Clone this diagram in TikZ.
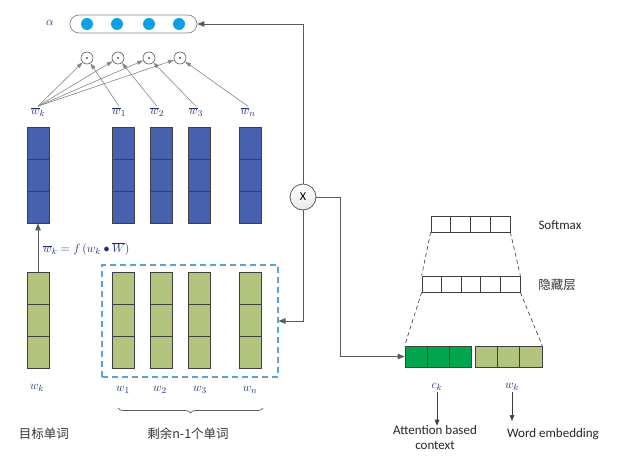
\documentclass[tikz,border=0pt]{standalone}
\usepackage{fontspec}
\setmainfont{Carlito}
\newfontfamily\cjk{Noto Sans CJK SC}
\usetikzlibrary{arrows.meta,decorations.pathreplacing,calc}
\definecolor{cblue}{HTML}{4761AE}
\definecolor{lgreen}{HTML}{B3C47F}
\definecolor{dgreen}{HTML}{00A54F}
\definecolor{dotblue}{HTML}{0AA2E2}
\definecolor{edge}{HTML}{3F3F3F}
\definecolor{conngray}{HTML}{5A5A5A}
\definecolor{attgray}{HTML}{858585}
\definecolor{lbl}{HTML}{1F2F6F}
\definecolor{dashblue}{HTML}{5BA3D6}
\tikzset{
  cell/.style={draw=edge, line width=0.7pt, minimum width=22pt, minimum height=32pt, inner sep=0pt},
  rcell/.style={draw=edge, line width=0.7pt, minimum height=16pt, inner sep=0pt, fill=white},
  gcell/.style={draw=edge, line width=0.7pt, minimum height=21pt, minimum width=22pt, inner sep=0pt},
  conn/.style={draw=conngray, line width=0.8pt, -{Triangle[length=7pt,width=5.5pt]}},
  attarrow/.style={draw=attgray, line width=0.6pt, -{Triangle[length=6pt,width=4pt]}},
  wlabel/.style={text=lbl, inner sep=1pt, font=\fontsize{12.5}{13}\selectfont},
  odotc/.style={circle, draw=conngray, line width=0.6pt, minimum size=12pt, inner sep=0pt, fill=white},
  bdot/.style={circle, fill=dotblue, minimum size=12pt, inner sep=0pt},
  txt/.style={inner sep=0pt, font=\fontsize{13}{15}\selectfont},
  cjktxt/.style={inner sep=0pt, font=\cjk\fontsize{12.5}{15}\selectfont, text=black!80},
  downarrow/.style={draw=edge, line width=0.7pt, -{Triangle[length=6pt,width=4.5pt]}},
  trap/.style={draw=black!80, line width=0.6pt, dash pattern=on 4pt off 3pt},
}
\newcommand\wcol[4]{%
  \node[cell,fill=#4] (#1a) at (#2,#3+16) {};
  \node[cell,fill=#4] (#1b) at (#2,#3+48) {};
  \node[cell,fill=#4] (#1c) at (#2,#3+80) {};
}
\begin{document}
\begin{tikzpicture}[x=1pt,y=-1pt]
\useasboundingbox (0,0) rectangle (624,468);

% alpha oval
\node[draw=attgray, line width=0.7pt, rounded corners=9pt, minimum width=127pt, minimum height=18pt, inner sep=0pt] (alpha) at (133.5,24) {};
\node[text=lbl, inner sep=0pt, font=\fontsize{12.5}{13}\selectfont] (alab) at (50,23) {$\alpha$};
\foreach \i/\x in {1/87,2/117,3/149,4/179} \node[bdot] (d\i) at (\x,24) {};

% odot circles
\foreach \i/\x in {1/87,2/118,3/149,4/180} {
  \node[odotc] (o\i) at (\x,58) {};
  \fill[black] (o\i) circle (0.9pt);
}

% blue columns
\wcol{bk}{38}{127}{cblue}
\wcol{b1}{123}{127}{cblue}
\wcol{b2}{161}{127}{cblue}
\wcol{b3}{199.5}{127}{cblue}
\wcol{bn}{250.5}{127}{cblue}

% green columns
\wcol{gk}{38}{272}{lgreen}
\wcol{g1}{123}{272}{lgreen}
\wcol{g2}{161}{272}{lgreen}
\wcol{g3}{199.5}{272}{lgreen}
\wcol{gn}{250.5}{272}{lgreen}

% bar-w labels
\node[wlabel] (lk) at (38,112) {$\overline{w}_k$};
\node[wlabel] (l1) at (119,112) {$\overline{w}_1$};
\node[wlabel] (l2) at (157,112) {$\overline{w}_2$};
\node[wlabel] (l3) at (196,112) {$\overline{w}_3$};
\node[wlabel] (ln) at (248,112) {$\overline{w}_n$};

\foreach \i in {1,2,3,4} \draw[attarrow] (lk.north) -- (o\i);
\draw[attarrow] (l1.north) -- (o1);
\draw[attarrow] (l2.north) -- (o2);
\draw[attarrow] (l3.north) -- (o3);
\draw[attarrow] (ln.north) -- (o4);

% w labels
\node[wlabel] (wk) at (37,388) {$w_k$};
\node[wlabel] (w1) at (123,390) {$w_1$};
\node[wlabel] (w2) at (160,390) {$w_2$};
\node[wlabel] (w3) at (200,390) {$w_3$};
\node[wlabel] (wn) at (250,390) {$w_n$};

% projection arrow
\draw[conn] (gka.north) -- (bkc.south);
\node[text=lbl, inner sep=0pt, anchor=west, font=\fontsize{12.5}{13}\selectfont] (feq) at (43,249) {$\overline{w}_k = f\,(w_k \bullet \overline{W})$};

% dashed box
\node[draw=dashblue, line width=1.1pt, dash pattern=on 6pt off 4pt, minimum width=176pt, minimum height=112pt, inner sep=0pt] (dbox) at (190,321) {};

% brace
\draw[draw=conngray, line width=0.7pt, decorate, decoration={brace, amplitude=5pt, mirror}] (118,408) -- (263,408);

% texts
\node[cjktxt] (t1) at (44,434) {目标单词};
\node[cjktxt] (t2) at (188,434) {剩余n-1个单词};

% X circle
\node[circle, draw=conngray, line width=0.8pt, minimum size=26pt, inner sep=0pt, top color=white, bottom color=black!8, font=\fontsize{12}{12}\selectfont] (X) at (303,197) {X};

\draw[conn] (X.north) |- (alpha.east);
\draw[conn] (X.south) |- (dbox.east);

% right part
\foreach \i in {1,...,4} \node[rcell, minimum width=19.75pt] (s\i) at (431+9.875+19.75*\i-19.75,224) {};
\foreach \i in {1,...,5} \node[rcell, minimum width=19.6pt] (h\i) at (422+9.8+19.6*\i-19.6,284) {};
\foreach \i in {1,2,3} \node[gcell, fill=dgreen] (c\i) at (405+11+22*\i-22,356.5) {};
\foreach \i in {1,2,3} \node[gcell, fill=lgreen, minimum width=22.3pt] (e\i) at (475+11.15+22.3*\i-22.3,356.5) {};

\draw[trap] (s1.south west) -- (h1.north west);
\draw[trap] (s4.south east) -- (h5.north east);
\draw[trap] (h1.south west) -- (c1.north west);
\draw[trap] (h5.south east) -- (e3.north east);

\node[txt, text=black!85] (smax) at (560,225) {Softmax};
\node[cjktxt] (hid) at (557,285) {隐藏层};

\draw[conn] (X.east) -- ++(24,0) |- (c1.west);

\node[wlabel] (ck) at (437,387) {$c_k$};
\node[wlabel] (wk2) at (512,387) {$w_k$};
\node[txt, align=center, text=black!85] (att) at (435,438) {Attention based\\context};
\node[txt, text=black!85] (we) at (553,434) {Word embedding};
\coordinate (weTop) at (512,421);
\draw[downarrow] (ck.south) -- (ck.south |- att.north);
\draw[downarrow] (wk2.south) -- (weTop);
\end{tikzpicture}
\end{document}
